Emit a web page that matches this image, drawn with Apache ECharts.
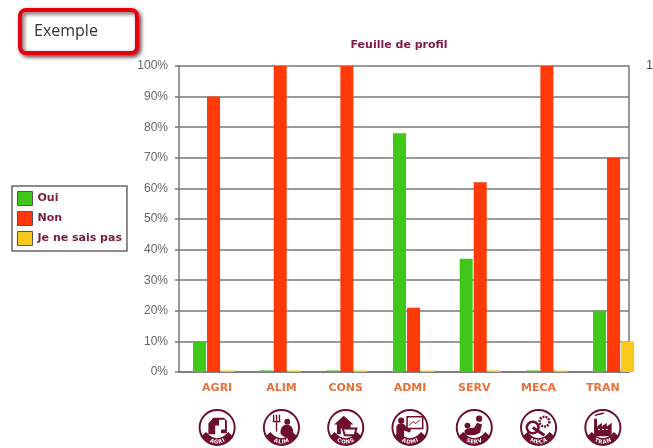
<!DOCTYPE html>
<html>
<head>
<meta charset="utf-8">
<title>Feuille de profil</title>
<script src="https://cdn.jsdelivr.net/npm/echarts@6/dist/echarts.min.js"></script>
<style>
  html, body { margin: 0; padding: 0; background: #fff; }
  #main { width: 653px; height: 448px; }
</style>
</head>
<body>
<div id="main"></div>
<script>
var categories = ["AGRI", "ALIM", "CONS", "ADMI", "SERV", "MECA", "TRAN"];
var oui = [10, 0.5, 0.5, 78, 37, 0.5, 20];
var non = [90, 100, 100, 21, 62, 100, 70];
var nsp = [0.5, 0.5, 0.5, 0.5, 0.5, 0.5, 10];

var maroon = "#6d0f2c";
var legendText = "#7a1a45";
var axisGray = "#777";
var labelGray = "#666";

// little round pictos under the categories
var glyphs = {
  AGRI: '<path d="M11 27V16l5-6h11l3 3v13h-6v-8h-6v9z" fill="M"/><path d="M22 12h6v10h-6z" fill="#fff"/>',
  ALIM: '<path d="M12 7v7M15 7v7M18 7v7M11 14h8M15 14v10" stroke="M" stroke-width="1.4" fill="none"/><circle cx="26" cy="14" r="3" fill="M"/><path d="M19 25c0-6 4-8 7-8s6 3 6 7-3 6-6 6-7-2-7-5z" fill="M"/>',
  CONS: '<path d="M8 17l10-9 10 9h-3v4H15v6h-4V17z" fill="M"/><path d="M17 21h14l-2 7H19z" fill="none" stroke="M" stroke-width="2"/>',
  ADMI: '<path d="M17 9h16v12H17z" fill="none" stroke="M" stroke-width="1.6"/><path d="M19 18l4-4 3 2 4-4" stroke="M" fill="none"/><circle cx="11" cy="13" r="3.2" fill="M"/><path d="M6 29V20c0-3 3-4 5-4s4 1 5 3l5 3-1 3-6-2v6z" fill="M"/>',
  SERV: '<circle cx="25" cy="11" r="3.2" fill="M"/><circle cx="13" cy="18" r="3" fill="M"/><path d="M10 23c3-3 7-2 10-3l3-5 5 2-2 8c-4 3-10 4-16 2z" fill="M"/>',
  MECA: '<circle cx="26" cy="14" r="5" fill="none" stroke="M" stroke-width="2.6" stroke-dasharray="2 1"/><circle cx="14" cy="20" r="6" fill="none" stroke="M" stroke-width="2.6"/><path d="M14 20l12 8" stroke="M" stroke-width="3"/>',
  TRAN: '<path d="M11 29V11h3v8l5-4v4l5-4v4l5-4v14z" fill="M"/><path d="M12 8c3-3 6-1 9-3" stroke="M" fill="none" stroke-width="1.5"/><path d="M15 22h10" stroke="#fff" stroke-dasharray="2 2"/>'
};

function iconUrl(name) {
  var svg = '<svg xmlns="http://www.w3.org/2000/svg" width="40" height="40" viewBox="0 0 40 40">' +
    '<circle cx="20" cy="20" r="18" fill="#fff" stroke="M" stroke-width="2"/>' +
    glyphs[name] +
    '<path id="b" d="M6 27Q20 42 34 27" fill="none" stroke="M" stroke-width="7"/>' +
    '<text font-family="DejaVu Sans" font-weight="bold" font-size="5.5" fill="#fff" text-anchor="middle" dy="2">' +
    '<textPath href="#b" startOffset="50%">' + name + '</textPath></text></svg>';
  return "data:image/svg+xml;charset=utf-8," + encodeURIComponent(svg.replace(/"M"/g, '"' + maroon + '"'));
}

var richStyles = {
  name: { color: "#e8703a", fontFamily: "DejaVu Sans", fontWeight: "bold", fontSize: 11, lineHeight: 14, align: "center" },
  gap: { height: 13, lineHeight: 13 }
};
categories.forEach(function (c) {
  richStyles["ic" + c] = { width: 39, height: 39, align: "center", backgroundColor: { image: iconUrl(c) } };
});

var pctFormat = "{value}%";
var chart = echarts.init(document.getElementById("main"));

chart.setOption({
  backgroundColor: "#fff",
  animation: false,
  title: {
    text: "Feuille de profil",
    left: 394,
    top: 35,
    textAlign: "center",
    textStyle: { color: legendText, fontFamily: "DejaVu Sans", fontWeight: "bold", fontSize: 11 }
  },
  legend: {
    data: ["Oui", "Non", "Je ne sais pas"],
    orient: "vertical",
    left: 12,
    top: 186,
    padding: [5, 5, 5, 5],
    itemWidth: 15,
    itemHeight: 14,
    itemGap: 5,
    icon: "rect",
    borderColor: "#666",
    borderWidth: 1.5,
    itemStyle: { borderColor: "#555", borderWidth: 1 },
    textStyle: { color: legendText, fontFamily: "DejaVu Sans", fontWeight: "bold", fontSize: 11 }
  },
  grid: [
    { left: 179, top: 66, width: 450, height: 306, outerBoundsMode: "none" },
    // bars sit on their own slightly wider band, they drift right of the axis like in the source
    { left: 180.2, top: 66, width: 466.7, height: 306, outerBoundsMode: "none" }
  ],
  xAxis: [
    {
      type: "category",
      gridIndex: 0,
      data: categories,
      axisLine: { lineStyle: { color: axisGray, width: 1.5 } },
      axisTick: { length: 4, lineStyle: { color: axisGray, width: 1.5 } },
      axisLabel: {
        interval: 0,
        margin: 9,
        padding: [0, 0, 0, 12],
        rich: richStyles,
        formatter: function (v) {
          return "{name|" + v + "}\n{gap|}\n{ic" + v + "|}";
        }
      }
    },
    { type: "category", gridIndex: 1, data: categories, show: false }
  ],
  yAxis: [
    {
      type: "value",
      gridIndex: 0,
      min: 0,
      max: 100,
      interval: 10,
      axisLine: { show: true, lineStyle: { color: axisGray, width: 1.5 } },
      axisTick: { show: true, length: 4, lineStyle: { color: axisGray, width: 1.5 } },
      splitLine: { lineStyle: { color: axisGray, width: 1.5 } },
      axisLabel: { formatter: pctFormat, color: labelGray, fontFamily: "Liberation Sans", fontSize: 12, margin: 11 }
    },
    {
      type: "value",
      gridIndex: 0,
      position: "right",
      min: 0,
      max: 100,
      interval: 10,
      axisLine: { show: true, onZero: false, lineStyle: { color: axisGray, width: 1.5 } },
      axisTick: { show: false },
      splitLine: { show: false },
      // runs off the page on purpose, the source picture is cropped here
      axisLabel: { formatter: pctFormat, color: "#444", fontFamily: "Liberation Sans", fontSize: 12, align: "right", margin: 48 }
    },
    { type: "value", gridIndex: 1, min: 0, max: 100, show: false }
  ],
  series: [
    { name: "Oui", type: "bar", xAxisIndex: 1, yAxisIndex: 2, data: oui, barWidth: 13, barGap: "8%", itemStyle: { color: "#3fc71a" } },
    { name: "Non", type: "bar", xAxisIndex: 1, yAxisIndex: 2, data: non, barWidth: 13, barGap: "8%", itemStyle: { color: "#ff3a08" } },
    { name: "Je ne sais pas", type: "bar", xAxisIndex: 1, yAxisIndex: 2, data: nsp, barWidth: 13, barGap: "8%", itemStyle: { color: "#fbc81c" } }
  ],
  graphic: [
    {
      type: "rect",
      shape: { x: 20, y: 10, width: 117, height: 43, r: 6 },
      style: { fill: "#fff", stroke: "#e4000f", lineWidth: 4, shadowBlur: 4, shadowOffsetX: 2, shadowOffsetY: 2, shadowColor: "rgba(60,0,0,0.7)" }
    },
    {
      type: "text",
      style: { x: 34, y: 31, text: "Exemple", verticalAlign: "middle", fill: "#333", font: "16px 'Open Sans'" }
    }
  ]
});
</script>
</body>
</html>
